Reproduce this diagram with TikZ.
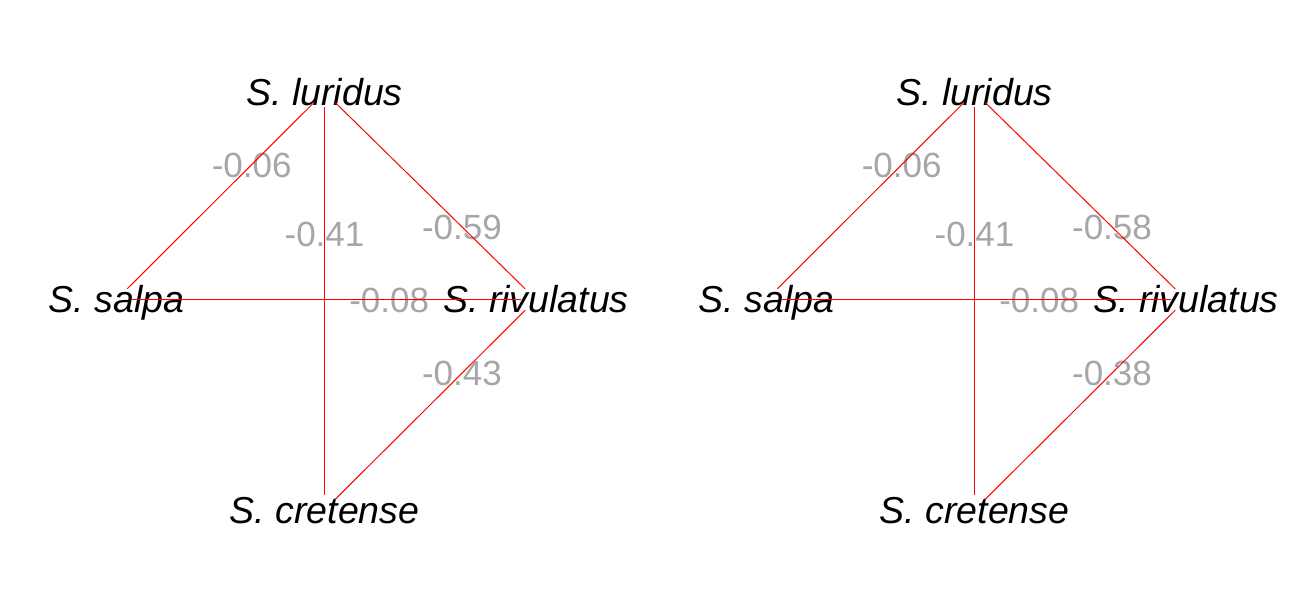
\documentclass[tikz,border=0pt]{standalone}
\usepackage{fontspec}
\setmainfont{Liberation Sans}
\usetikzlibrary{calc}
\definecolor{lblgray}{RGB}{166,166,166}
\begin{document}
\begin{tikzpicture}[x=1pt,y=-1pt,
  vtx/.style={circle,inner sep=0pt,minimum size=30pt},
  sp/.style={anchor=base,yshift=-13.4pt,inner sep=0pt,font=\fontsize{37.5}{40}\selectfont\itshape},
  wt/.style={anchor=base,yshift=-12.5pt,inner sep=0pt,text=lblgray,font=\fontsize{35}{38}\selectfont},
  edgeline/.style={red,line width=1pt}]
\useasboundingbox (0,0) rectangle (1300,600);
\foreach \ox/\p/\wa/\wb in {0/a/-0.59/-0.43,650/b/-0.58/-0.38}{
  % vertices
  \node[vtx] (L\p) at (324.5+\ox,92) {};
  \node[vtx] (S\p) at (116.5+\ox,299.5) {};
  \node[vtx] (R\p) at (536+\ox,299.5) {};
  \node[vtx] (C\p) at (324.5+\ox,510) {};
  % species labels
  \node[sp] (tL\p) at (L\p.center) {S. luridus};
  \node[sp] (tS\p) at (S\p.center) {S. salpa};
  \node[sp] (tR\p) at (R\p.center) {S. rivulatus};
  \node[sp] (tC\p) at (C\p.center) {S. cretense};
  % weights
  \node[wt] (w1\p) at ($(L\p.center)!0.35!(S\p.center)$) {-0.06};
  \node[wt] (w2\p) at ($(L\p.center)!0.34!(C\p.center)$) {-0.41};
  \node[wt] (w3\p) at ($(R\p.center)!0.35!(L\p.center)$) {\wa};
  \node[wt] (w4\p) at ($(R\p.center)!0.35!(S\p.center)$) {-0.08};
  \node[wt] (w5\p) at ($(R\p.center)!0.35!(C\p.center)$) {\wb};
  % edges
  \draw[edgeline] (L\p) -- (S\p);
  \draw[edgeline] (L\p) -- (C\p);
  \draw[edgeline] (L\p) -- (R\p);
  \draw[edgeline] (S\p) -- (R\p);
  \draw[edgeline] (R\p) -- (C\p);
}
\end{tikzpicture}
\end{document}
